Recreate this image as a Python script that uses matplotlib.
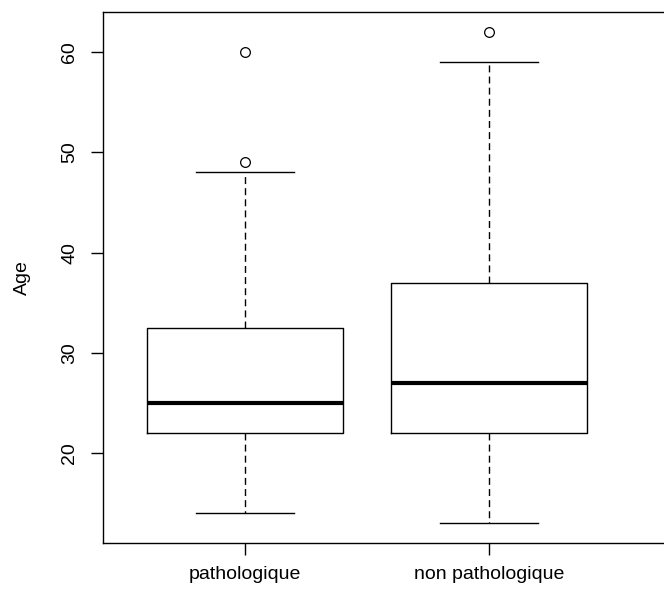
import matplotlib; matplotlib.use("Agg"); import matplotlib.pyplot as plt

plt.rcParams["font.family"] = ["Liberation Sans", "DejaVu Sans"]

# box stats (R-style boxplot)
groups = ["pathologique", "non pathologique"]
q1 = [22, 22]
med = [25, 27]
q3 = [32.5, 37]
whislo = [14, 13]
whishi = [48, 59]
fliers = [[49, 60], [62]]
yticks = [20, 30, 40, 50, 60]

stats = [dict(label=g, q1=a, med=m, q3=b, whislo=lo, whishi=hi, fliers=f)
         for g, a, m, b, lo, hi, f in zip(groups, q1, med, q3, whislo, whishi, fliers)]

W, H = 664, 591
fig = plt.figure(figsize=(W / 100, H / 100), dpi=100)
ax = fig.add_axes([103.3 / W, (H - 543) / H, (667 - 103.3) / W, (543 - 12.3) / H])

ax.bxp(stats, positions=[1, 2], widths=0.8, capwidths=0.4,
       boxprops=dict(color="black", lw=1.0),
       medianprops=dict(color="black", lw=3.0, solid_capstyle="butt"),
       whiskerprops=dict(color="black", lw=1.0, linestyle=(0, (5, 3))),
       capprops=dict(color="black", lw=1.0),
       flierprops=dict(marker="o", mfc="none", mec="black", ms=7, mew=0.9))

ax.set_xlim(0.419, 2.73)
ax.set_ylim(11.04, 63.96)
ax.set_yticks(yticks)
ax.set_yticklabels([str(t) for t in yticks], rotation=90, va="center")
ax.set_xticks([1, 2])
ax.set_xticklabels(groups)
ax.tick_params(axis="both", labelsize=14, length=8.6, width=1.0, color="black")
ax.tick_params(axis="y", pad=9.5)
ax.tick_params(axis="x", pad=8)
for s in ax.spines.values():
    s.set_linewidth(1.0); s.set_color("black")

fig.text(22 / W, 1 - 277.6 / H, "Age", rotation=90, ha="center", va="center", fontsize=14)

fig.savefig("out.png", dpi=100)
